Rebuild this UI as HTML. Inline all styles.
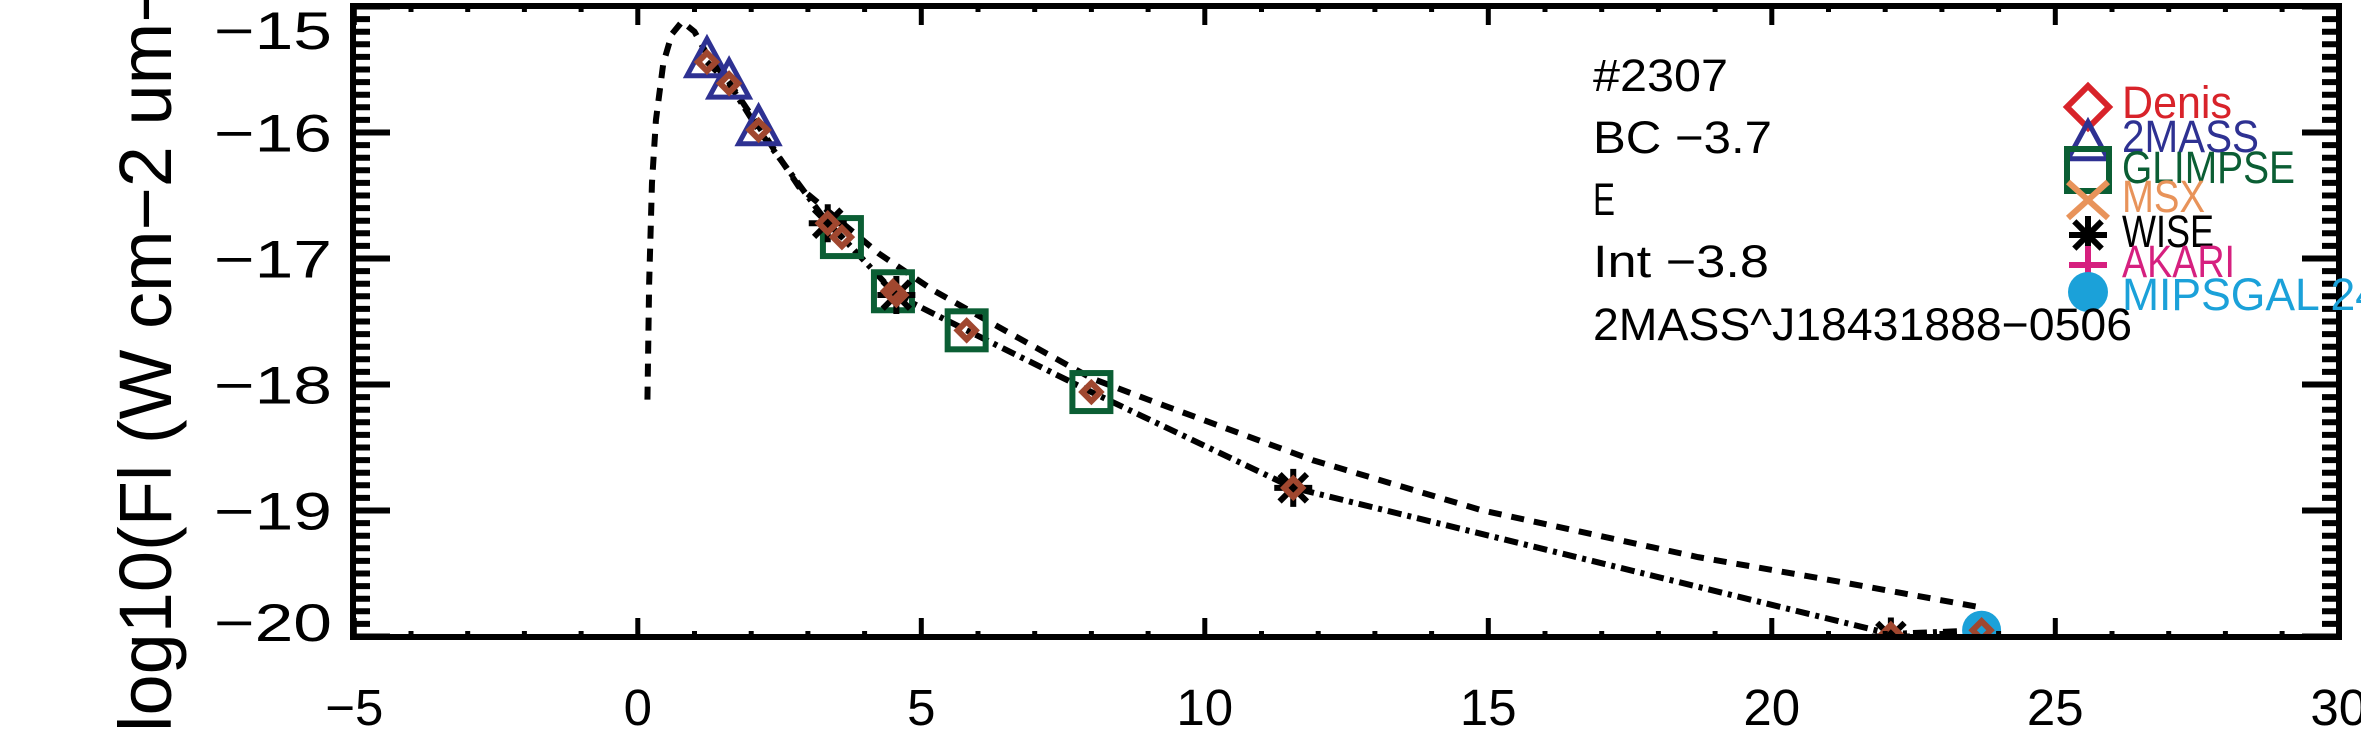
<!DOCTYPE html>
<html><head><meta charset="utf-8"><title>SED #2307</title>
<style>html,body{margin:0;padding:0;background:#fff;}svg{display:block;}text{font-family:"Liberation Sans",sans-serif;}</style>
</head><body>
<svg id="chart" width="2361" height="750" viewBox="0 0 2361 750" xmlns="http://www.w3.org/2000/svg">
<defs><clipPath id="plotclip"><rect x="353" y="6" width="1986" height="631"/></clipPath></defs>
<g id="curves" clip-path="url(#plotclip)"></g>
<g id="marks" clip-path="url(#plotclip)"></g>
<g id="axes"></g>
<g id="labels"></g>
<g id="legend"></g>
<g id="annot"></g>
</svg>
<script>
// ---- data ----
const xTicks = [-5, 0, 5, 10, 15, 20, 25, 30];
const yTicks = [-15, -16, -17, -18, -19, -20];
const twomassLam = [1.22, 1.61, 2.13];
const twomassFlux = [-15.44, -15.61, -15.98];
const glimpseLam = [3.6, 4.5, 5.8, 8.0];
const glimpseFlux = [-16.83, -17.26, -17.57, -18.06];
const wiseLam = [3.35, 4.56, 11.56, 22.1];
const wiseFlux = [-16.72, -17.29, -18.82, -20.0];
const mipsLam = [23.7];
const mipsFlux = [-19.95];
const modelLam = [1.22, 1.61, 2.13, 3.35, 3.6, 4.5, 4.56, 5.8, 8.0, 11.56, 22.1, 23.7];
const modelFlux = [-15.44, -15.61, -15.98, -16.72, -16.83, -17.26, -17.29, -17.57, -18.06, -18.82, -19.98, -19.95];
const sedLam = [0.17, 0.2, 0.25, 0.32, 0.45, 0.6, 0.78, 1.0, 1.22, 1.61, 2.13, 2.84, 4.25, 5.2, 6.55, 8.0, 9.0, 11.9, 14.9, 18.7, 21.0, 23.7];
const sedFlux = [-18.12, -17.2, -16.4, -15.9, -15.45, -15.22, -15.12, -15.2, -15.38, -15.6, -15.95, -16.43, -16.96, -17.25, -17.59, -17.95, -18.12, -18.6, -19.0, -19.37, -19.55, -19.77];

// ---- scales ----
const X0 = 637.8, XS = 56.7, Y0 = 636.5, YS = 126;
function xp(v){ return X0 + XS*v; }
function yp(v){ return Y0 - (v+20)*YS; }
const NS = "http://www.w3.org/2000/svg";
function mk(tag, attrs, parent){ const e=document.createElementNS(NS,tag); for(const k in attrs) e.setAttribute(k,attrs[k]); parent.appendChild(e); return e; }

const axes = document.getElementById('axes');
const labels = document.getElementById('labels');
const frame = mk('rect',{x:353,y:6,width:1986,height:631,fill:'none',stroke:'#000','stroke-width':6},axes);


for(let i=0;i<=50;i++){
  const v = -20 + i*0.1;
  const y = yp(v);
  const major = (i%10===0);
  const len = major?37:17;
  const t1 = mk('line',{x1:353,y1:y,x2:353+len,y2:y,stroke:'#000','stroke-width':6},axes);
  
  
  const t2 = mk('line',{x1:2339,y1:y,x2:2339-len,y2:y,stroke:'#000','stroke-width':6},axes);
  
  
}
for(let v=-5; v<=30; v++){
  const x = xp(v);
  const major = (v%5===0);
  const len = major?19:6;
  const t1 = mk('line',{x1:x,y1:637,x2:x,y2:637-len,stroke:'#000','stroke-width':5},axes);
  
  
  const t2 = mk('line',{x1:x,y1:6,x2:x,y2:6+len,stroke:'#000','stroke-width':5},axes);
  
  
}
yTicks.forEach(v=>{
  let cy = yp(v);
  if (cy < 30) cy = 30;
  if (cy > 622) cy = 622;
  const t = mk('text',{x:332,y:cy+19,'text-anchor':'end','font-size':53,textLength:118,lengthAdjust:'spacingAndGlyphs'},labels);
  t.textContent = '\u2212' + Math.abs(v);
  
  
});
xTicks.forEach(v=>{
  const s = (v<0?'\u2212':'') + Math.abs(v);
  const t = mk('text',{x:xp(v),y:725,'text-anchor':'middle','font-size':51},labels);
  t.textContent = s;
  
  
});
const yt = mk('text',{x:0,y:0,'font-size':74,transform:'translate(171,732) rotate(-90)'},labels);
yt.textContent = 'log10(Fl (W cm\u22122 um\u22121))';



const curves = document.getElementById('curves');
const sedPts = sedLam.map((l,i)=>xp(l)+','+yp(sedFlux[i])).join(' ');
const sed = mk('polyline',{points:sedPts,fill:'none',stroke:'#000','stroke-width':6,'stroke-dasharray':'13 10'},curves);


const obsPts = modelLam.map((l,i)=>xp(l)+','+yp(modelFlux[i])).join(' ');
const obs = mk('polyline',{points:obsPts,fill:'none',stroke:'#000','stroke-width':6,'stroke-dasharray':'14 6 4 6'},curves);



function tri(g,cx,cy,s,col){ return mk('polygon',{points:`${cx},${cy-s} ${cx-s*0.95},${cy+s*0.75} ${cx+s*0.95},${cy+s*0.75}`,fill:'none',stroke:col,'stroke-width':5},g); }
function sq(g,cx,cy,s,col){ return mk('rect',{x:cx-s,y:cy-s,width:2*s,height:2*s,fill:'none',stroke:col,'stroke-width':6},g); }
function ast(g,cx,cy,s,col){ const gg=mk('g',{stroke:col,'stroke-width':6},g); mk('line',{x1:cx-s,y1:cy,x2:cx+s,y2:cy},gg); mk('line',{x1:cx,y1:cy-s,x2:cx,y2:cy+s},gg); mk('line',{x1:cx-s*0.72,y1:cy-s*0.72,x2:cx+s*0.72,y2:cy+s*0.72},gg); mk('line',{x1:cx-s*0.72,y1:cy+s*0.72,x2:cx+s*0.72,y2:cy-s*0.72},gg); return gg; }
function dia(g,cx,cy,s,col,w){ return mk('polygon',{points:`${cx},${cy-s} ${cx+s},${cy} ${cx},${cy+s} ${cx-s},${cy}`,fill:'none',stroke:col,'stroke-width':w},g); }

const marks = document.getElementById('marks');
twomassLam.forEach((l,i)=>{ const e=tri(marks,xp(l),yp(twomassFlux[i])-2,21,'#2e3192');
  
   });
glimpseLam.forEach((l,i)=>{ const e=sq(marks,xp(l),yp(glimpseFlux[i]),19,'#0b5e34');
  
   });
wiseLam.forEach((l,i)=>{ const e=ast(marks,xp(l),yp(wiseFlux[i]),19,'#000');
  
   });
mipsLam.forEach((l,i)=>{ const e=mk('circle',{cx:xp(l),cy:yp(mipsFlux[i]),r:19.5,fill:'#1ba1d9'},marks);
  
   });
modelLam.forEach((l,i)=>{ const e=dia(marks,xp(l),yp(modelFlux[i]),9,'#a0472f',6);
  
   });

const legend = document.getElementById('legend');
const legNames = ['Denis','2MASS','GLIMPSE','MSX','WISE','AKARI','MIPSGAL 24'];
const legColors = ['#d8232a','#2e3192','#0b5e34','#e8935a','#000000','#d6207f','#1ba1d9'];
const legBase = [118,152,183,212,247,277,310];
const legW = [110,137,173,83,92,113,258];
const legSymY = [107,143,170,200,235,265,292];
legNames.forEach((n,i)=>{
  const t = mk('text',{x:2122,y:legBase[i],'font-size':45,fill:legColors[i],textLength:legW[i],lengthAdjust:'spacingAndGlyphs'},legend);
  t.textContent = n;
  
  
});
const lx = 2088;
dia(legend,lx,legSymY[0],21,legColors[0],6);
tri(legend,lx,legSymY[1],21,legColors[1]);
sq(legend,lx,legSymY[2],21,legColors[2]);
const mx = mk('g',{stroke:legColors[3],'stroke-width':6},legend);
mk('line',{x1:lx-20,y1:legSymY[3]-18,x2:lx+20,y2:legSymY[3]+18},mx);
mk('line',{x1:lx-20,y1:legSymY[3]+18,x2:lx+20,y2:legSymY[3]-18},mx);
ast(legend,lx,legSymY[4],19,'#000');
const pl = mk('g',{stroke:legColors[5],'stroke-width':6},legend);
mk('line',{x1:lx-19,y1:legSymY[5],x2:lx+19,y2:legSymY[5]},pl);
mk('line',{x1:lx,y1:legSymY[5]-19,x2:lx,y2:legSymY[5]+19},pl);
mk('circle',{cx:lx,cy:legSymY[6],r:20,fill:legColors[6]},legend);

const annot = document.getElementById('annot');
const annLines = ['#2307','BC  \u22123.7','E','Int  \u22123.8','2MASS^J18431888\u22120506'];
const annBase = [91,153,215,277,340];
const annW = [135,179,22,176,539];
annLines.forEach((s,i)=>{
  const t = mk('text',{x:1593,y:annBase[i],'font-size':45,fill:'#000',textLength:annW[i],lengthAdjust:'spacingAndGlyphs'},annot);
  t.textContent = s;
  
  
});
</script>
</body></html>
